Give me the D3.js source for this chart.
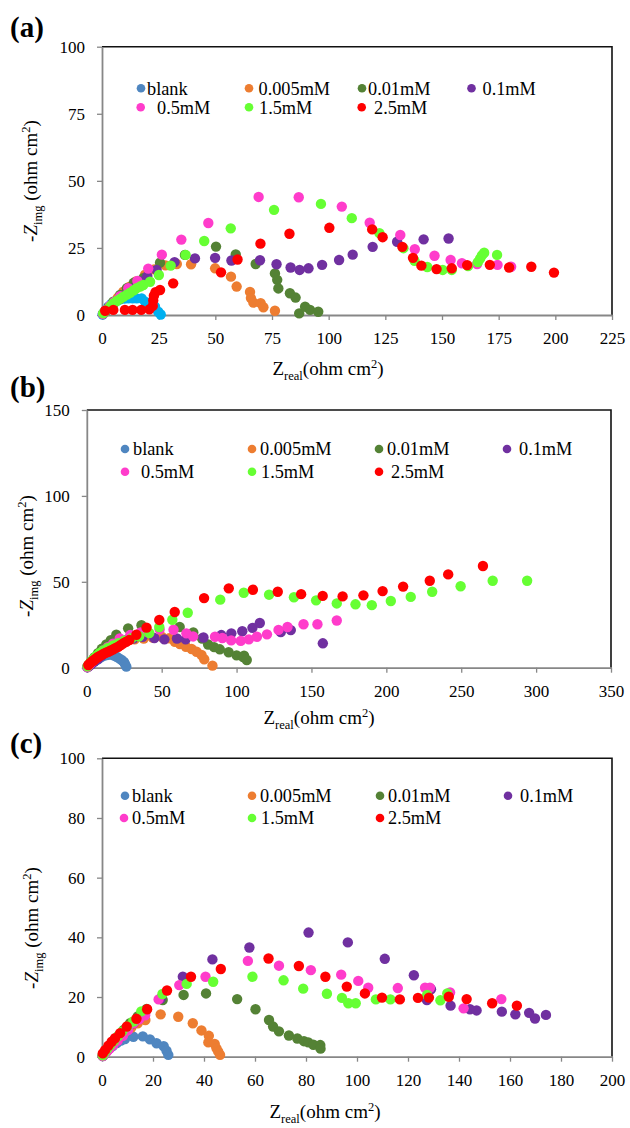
<!DOCTYPE html>
<html>
  <head>
    <meta charset="utf-8">
    <title>Nyquist plots</title>
    <script src="https://cdn.jsdelivr.net/npm/d3@7/dist/d3.min.js"></script>
    <style>
      body { margin: 0; background: #fff; }
    </style>
  </head>
  <body>
    <svg width="630" height="1128" id="mainsvg"></svg>
    <script>
        // series names and colours (same order in every panel)
        const seriesNames = ['blank', '0.005mM', '0.01mM', '0.1mM', '0.5mM', '1.5mM', '2.5mM'];
        const seriesColors = ['#4f86c0', '#ed7d31', '#548235', '#7030a0', '#ff3ccb', '#66ff33', '#ff0000'];

        // ---- panel (a) ----  [Zreal, -Zimg]
        const aXTicks = [0, 25, 50, 75, 100, 125, 150, 175, 200, 225];
        const aYTicks = [0, 25, 50, 75, 100];
        const aBlank = [[0.3,0.2],[0.6,0.6],[1.5,1.5],[2.8,3.1],[4,4],[5,4.6],[6.5,5.3],[7.9,5.8],[9.8,6.1],[11.6,6.2],[13.5,6.2],[15.3,6.2],[17.5,6.2],[19,5],[21.2,4.6],[23.4,3.1],[24.8,1.2],[25.9,0.2]];
        const a005 = [[0.5,0.4],[1.5,1.2],[3,2.5],[5,4.5],[7,6.5],[9.4,8.7],[12,10.5],[15,12.5],[19,15],[23,17],[28,18.5],[33,19],[39.3,18.9],[49.9,17.4],[56.9,14.3],[59.4,10.6],[65.3,8.6],[65.7,6.3],[66.8,4.6],[70,4.4],[71.2,2.9],[76.3,1.6]];
        const a01 = [[0.5,0.5],[1.5,1.5],[3,3],[5,5],[8,7.5],[11,10],[14,12],[18.2,13.7],[25.6,19.5],[36.6,22.4],[50.3,25.5],[59,22.6],[67.8,19],[76.3,15.5],[77.3,13.1],[77.8,9.9],[82.9,8.1],[85.4,6.5],[87,0.6],[89.6,3.1],[91.8,1.9],[95.4,1.2]];
        const a1 = [[0.5,0.4],[1.5,1.2],[3,2.5],[5,4],[8,6],[11,8],[14,10],[17,12.5],[20,14.5],[24.1,16.8],[32,19.7],[41,21.1],[49.9,21.3],[57.1,20.3],[69.7,20.4],[77,18.9],[83.2,17.7],[87.2,16.8],[91.1,17.4],[97.1,18.7],[104.6,20.5],[110.6,22.5],[119.4,25.4],[130.2,27.3],[141.9,28.2],[152.9,28.5]];
        const a5 = [[0.4,0.4],[1,1],[2,2],[3.5,3.5],[5.5,5],[8,7],[11.6,10],[15.6,12.7],[20.4,17.3],[26.4,22.5],[35,28.1],[46.9,34.3],[69.1,44],[86.8,43.9],[105.8,40.4],[118.1,34.4],[131.6,29.8],[138,24.5],[146.7,22.1],[153.8,20.5],[158.8,19.3],[165.5,19],[174.5,18.7],[180.5,18]];
        const a15 = [[0.5,0.6],[1.3,1.2],[2.5,2.2],[3.8,3.4],[5,4.3],[6.5,5.2],[8,6],[9.4,6.8],[11,7.6],[12.4,8.3],[14,9.2],[15.3,10],[16.8,10.6],[18.2,11.2],[21.2,12.4],[25.1,14.9],[30.3,18.4],[36.9,22.4],[45.1,27.6],[56.8,32.3],[75.9,39.2],[96.6,41.4],[110.2,36.1],[122.4,30.5],[133,24.9],[137.9,20.2],[143.5,17.9],[150.3,16.8],[154.3,16.8],[161.5,18.2],[165.8,19.7],[166.8,21],[167.6,22.2],[168.6,23.2],[174.3,22.4]];
        const a25 = [[1.4,1.6],[5,1.9],[10.1,1.9],[13.5,1.9],[17.3,1.9],[20.9,2.1],[22.4,3.4],[22.6,5.4],[22.9,7.2],[23.6,8.5],[25.6,9.3],[31.4,11.8],[52.5,15.9],[59.8,20.7],[69.9,26.6],[82.7,30.3],[100.3,32.5],[119.2,31.9],[123.8,29],[132.5,25.4],[137.2,21.3],[140.9,18.4],[147.6,17.1],[154.3,17.4],[161.1,18.6],[171.1,18.7],[179.6,17.7],[189.4,18],[199.4,15.8]];

        // ---- panel (b) ----
        const bXTicks = [0, 50, 100, 150, 200, 250, 300, 350];
        const bYTicks = [0, 50, 100, 150];
        const bBlank = [[0.3,0.3],[1,0.8],[2,1.8],[3.3,2.6],[5,3.6],[6.6,4.5],[8.3,5.5],[9.9,6.4],[11.6,7],[13.3,7.4],[15,7.6],[16.6,7.8],[18.2,7],[19.9,6.4],[21.6,5.4],[23.3,4.5],[24.8,3.3],[25.5,2.2],[26.4,0.6]];
        const b005 = [[0.5,0.5],[1.5,1.5],[3,3],[5,5],[7.5,7],[10,9],[13,11],[17,13],[21,14.5],[26,15.5],[32,16.5],[38,17],[44,17.5],[50,18],[55,17.1],[58.8,15.1],[62.2,13.8],[66.2,12.2],[70,10.9],[73.3,9.3],[76.6,7.4],[78.4,4.9],[83.9,1.2]];
        const b01 = [[0.5,0.6],[1.5,1.8],[3,3.8],[5,6],[7.5,8.5],[10,11],[13,13.5],[16,16],[19.7,19.2],[27.6,22.9],[36.5,24.7],[62,23.7],[71.1,20.5],[77,17],[81,13.5],[85,12],[88.8,10.7],[94.7,9],[100,7.2],[104.4,6.2],[105,7],[106.8,4.5]];
        const b1 = [[0.5,0.3],[1.5,1],[3,2],[5,3.5],[7.5,5],[10,7],[13,9.5],[17,12],[21,14],[26,16],[31,17],[37.2,18],[45.1,17.3],[51.8,16.5],[60.2,17],[66,16.5],[77.9,17.6],[89.8,19],[96.5,20],[103.8,21.2],[110.6,23.2],[115.5,26],[129.5,20.7],[136.2,21.9],[157.6,14.2]];
        const b5 = [[0.4,0.4],[1.2,1.2],[2.5,2.5],[4,4],[6,6],[8.5,8],[11,10],[14,12],[17.5,14],[22,17],[29,19],[36,20.5],[40,21],[48.6,22.3],[57.9,22.1],[66.5,20],[71,18.2],[85.6,18],[90.5,17.3],[96.4,15.9],[102.8,15.6],[108.2,16.5],[113.6,18],[120.3,19.4],[128,22],[134,23.7],[144.7,25.3],[154,25.3],[166.9,27.5]];
        const b15 = [[0.5,0.8],[1.5,2],[3,3.8],[4.8,5.5],[6.5,7],[8.5,8.5],[11,10],[14,11.5],[17.5,13],[21,14.3],[25,15.7],[30,17.2],[35,18.3],[41.7,20.2],[48.4,23.7],[57.1,27.9],[67.4,32],[89.1,39.6],[104.8,43.6],[121.7,42.5],[138.3,41],[153.1,39.2],[166.9,37.4],[179.4,36.9],[190.3,36.4],[203,38.8],[216.3,41.2],[230.6,44.2],[249.6,47.4],[271,50.6],[294,50.6]];
        const b25 = [[1,1.6],[2.2,2.6],[3.3,3.5],[4.4,4.2],[5.5,4.9],[6.6,5.7],[7.7,6.4],[9.3,7.2],[11,8],[12.7,8.7],[14.4,9.3],[16,10],[17.7,10.7],[19.3,11.5],[21,12.2],[22.7,13.2],[24.4,14.2],[26.3,15.1],[28.4,16.1],[33.1,19.2],[39.9,23.3],[48.4,27.8],[58.7,32.4],[78.3,40.5],[94.8,46.2],[110.9,45.4],[127.5,44.2],[143.1,42.8],[157.5,41.8],[170.8,41.5],[184.7,42.1],[197.5,44.6],[211.2,47.2],[229,50.6],[241.3,54.3],[264.5,59.2]];

        // ---- panel (c) ----
        const cXTicks = [0, 20, 40, 60, 80, 100, 120, 140, 160, 180, 200];
        const cYTicks = [0, 20, 40, 60, 80, 100];
        const cBlank = [[0.3,0.2],[0.8,0.8],[1.6,1.6],[2.8,2.6],[4.2,3.6],[5.8,4.6],[7.4,5.4],[9,5.9],[12.3,6.7],[16,6.8],[18.8,5.8],[21.4,4.5],[24.2,3.5],[25.3,2],[26,0.6]];
        const c005 = [[0.3,0.3],[1,1],[2,2.2],[3.5,3.7],[5,5],[7,6.8],[9,8.3],[11.5,9.8],[14,11.2],[17,12.3],[23,14.2],[29.9,13.4],[35.6,11.2],[39,8.8],[41.9,7],[41.7,4.8],[44.2,4.3],[44.9,2.8],[45.6,1.7],[46.3,0.6]];
        const c01 = [[0.3,0.4],[1,1.3],[2,2.6],[3.3,4],[4.8,5.5],[6.5,7],[8.5,9],[11,11.2],[14,13.5],[17.5,16],[23.8,19],[32,20.7],[40.8,21.2],[53,19.3],[60.2,15.9],[65.5,12.3],[67.1,10.1],[69.4,8.5],[73.3,7.1],[76.6,6.1],[79.2,5.2],[80.9,4.8],[82.9,4],[85.6,3.9],[85.7,2.7]];
        const c1 = [[0.3,0.3],[0.9,0.9],[1.8,1.8],[3,3],[4.5,4.2],[6.3,5.7],[8.3,7.9],[10.2,9.5],[12.3,11.2],[14.5,12.8],[16.9,14.5],[23,19.5],[31.7,26.8],[43.3,32.6],[57.8,36.6],[81,41.6],[96.4,38.3],[110.9,32.8],[122.3,27.3],[129,22.6],[127.4,19],[136.7,17.1],[144.3,15.9],[146.9,15.5],[156.8,15.1],[162.1,14.2],[167.5,14.7],[169.8,12.8],[174.1,14]];
        const c5 = [[0.3,0.2],[0.9,0.8],[1.8,1.6],[3,2.7],[4.5,4],[6.2,5.4],[8.2,7],[10.2,8.9],[12.3,11.2],[14.5,12.5],[16.9,13.9],[22.2,19.2],[30.3,24],[40.6,26.8],[57.2,32.1],[69.4,30.5],[81.9,29],[93.8,27.5],[100.5,25.4],[104.4,23.1],[116,23],[126.7,23.1],[128.6,23.1],[136.5,21.5],[141.8,16.2],[156.6,19.3]];
        const c15 = [[0.3,0.5],[1,1.4],[2,2.6],[3.2,3.8],[4.6,5.2],[6.2,6.8],[8,8.5],[10,10.2],[12.2,11.8],[15.4,15.2],[23.7,21],[33.2,24.4],[43.6,25.1],[59,26.8],[71.2,25.6],[78.9,22.8],[88.2,21.1],[94.1,19.7],[96.6,17.9],[99.5,17.9],[107.4,19.2],[113.1,19.2],[127.5,20.7],[132.7,18.9],[135.4,21.2]];
        const c25 = [[0.3,1.1],[1.2,2.2],[2.5,3.7],[3.8,5],[5.1,6.2],[7.1,7.9],[9.7,10.1],[13.5,12.7],[17.7,15.9],[25.5,22.2],[34.9,26.8],[46.6,29.4],[65.3,32.9],[77.2,30.4],[87.6,26.8],[96,23.5],[103.1,21.2],[109.8,19.8],[116.8,19.2],[123.9,19.7],[128.2,19.8],[136,20.1],[143,19.3],[153,17.9],[162.7,17.1]];

        const svg = d3.select('#mainsvg');
        const serifFont = '"Liberation Serif", "Times New Roman", serif';
        const axisGrey = '#878787';
        svg.attr('font-family', serifFont);

        // layout of each panel (pixel box of plot area, legend slots, titles)
        const panels = [
          { label: '(a)', labelY: 37, left: 102, right: 612, top: 46.7, bottom: 315,
            xTicks: aXTicks, yTicks: aYTicks,
            series: [aBlank, a005, a01, a1, a5, a15, a25],
            dataColors: ['#00b0f0'].concat(seriesColors.slice(1)),
            legendRows: [88.3, 107.3],
            legendMarkX: [141, 249, 362, 471.5, 140.7, 249, 361.7],
            legendTextX: [147, 258.5, 368, 482.5, 157, 259, 374],
            yTitle: [30, 181], xTitle: [328, 380] },
          { label: '(b)', labelY: 397, left: 86.8, right: 611, top: 410, bottom: 667.7,
            xTicks: bXTicks, yTicks: bYTicks,
            series: [bBlank, b005, b01, b1, b5, b15, b25],
            dataColors: seriesColors,
            legendRows: [449, 471.7],
            legendMarkX: [125, 252, 379, 507, 125, 252, 379],
            legendTextX: [133, 260, 387, 519, 141, 261, 391],
            yTitle: [26, 556], xTitle: [319, 729] },
          { label: '(c)', labelY: 753, left: 102, right: 612, top: 758.3, bottom: 1056.7,
            xTicks: cXTicks, yTicks: cYTicks,
            series: [cBlank, c005, c01, c1, c5, c15, c25],
            dataColors: seriesColors,
            legendRows: [795.7, 818],
            legendMarkX: [125, 252, 380, 508, 124, 252, 380],
            legendTextX: [132, 260, 388, 520, 132, 261, 388],
            yTitle: [31, 928], xTitle: [325, 1123] }
        ];

        function drawPanel(p) {
          const xScale = d3.scaleLinear()
            .domain([p.xTicks[0], p.xTicks[p.xTicks.length - 1]])
            .range([p.left, p.right]);
          const yScale = d3.scaleLinear()
            .domain([p.yTicks[0], p.yTicks[p.yTicks.length - 1]])
            .range([p.bottom, p.top]);

          const g = svg.append('g').attr('font-family', serifFont);

          // black border on top and right
          g.append('path')
            .attr('d', `M${p.left},${p.top}H${p.right}V${p.bottom}`)
            .attr('fill', 'none').attr('stroke', '#111').attr('stroke-width', 1.6);

          const xAxis = d3.axisBottom(xScale).tickValues(p.xTicks)
            .tickSize(5).tickSizeOuter(0).tickPadding(12);
          const yAxis = d3.axisLeft(yScale).tickValues(p.yTicks)
            .tickSize(5).tickSizeOuter(0).tickPadding(12);

          const xg = g.append('g').attr('transform', `translate(0, ${p.bottom})`).call(xAxis);
          const yg = g.append('g').attr('transform', `translate(${p.left}, 0)`).call(yAxis);
          [xg, yg].forEach(ag => {
            ag.attr('font-family', serifFont).attr('font-size', 17);
            ag.select('.domain').attr('stroke', axisGrey).attr('stroke-width', 1.8);
            ag.selectAll('.tick line').attr('stroke', axisGrey).attr('stroke-width', 1.3);
            ag.selectAll('.tick text').attr('fill', '#000');
          });

          // data points
          p.series.forEach((pts, i) => {
            g.append('g').selectAll('circle').data(pts).join('circle')
              .attr('cx', d => xScale(d[0]))
              .attr('cy', d => yScale(d[1]))
              .attr('r', 5.2)
              .attr('fill', p.dataColors[i]);
          });

          // legend, 4 + 3 entries
          seriesNames.forEach((name, i) => {
            const rowY = p.legendRows[i < 4 ? 0 : 1];
            g.append('circle').attr('cx', p.legendMarkX[i]).attr('cy', rowY)
              .attr('r', 4.3).attr('fill', seriesColors[i]);
            g.append('text').attr('x', p.legendTextX[i]).attr('y', rowY + 6.2)
              .attr('font-size', 18.3).text(name);
          });

          // panel label
          g.append('text').attr('x', 10).attr('y', p.labelY)
            .attr('font-size', 29).attr('font-weight', 'bold').text(p.label);

          // y title: -Zimg (ohm cm2)
          const yt = g.append('text')
            .attr('transform', `translate(${p.yTitle[0]}, ${p.yTitle[1]}) rotate(-90)`)
            .attr('text-anchor', 'middle').attr('dy', '0.35em').attr('font-size', 19);
          yt.append('tspan').text('-');
          yt.append('tspan').attr('font-style', 'italic').text('Z');
          yt.append('tspan').attr('font-size', 12.5).attr('dy', 5).text('img');
          yt.append('tspan').attr('dy', -5).text(' (ohm cm');
          yt.append('tspan').attr('font-size', 12.5).attr('dy', -7).text('2');
          yt.append('tspan').attr('dy', 7).text(')');

          // x title: Zreal(ohm cm2)
          const xt = g.append('text').attr('x', p.xTitle[0]).attr('y', p.xTitle[1] - 5)
            .attr('text-anchor', 'middle').attr('font-size', 19);
          xt.append('tspan').text('Z');
          xt.append('tspan').attr('font-size', 12.5).attr('dy', 5).text('real');
          xt.append('tspan').attr('dy', -5).text('(ohm cm');
          xt.append('tspan').attr('font-size', 12.5).attr('dy', -7).text('2');
          xt.append('tspan').attr('dy', 7).text(')');
        }

        panels.forEach(drawPanel);
    </script>
  </body>
</html>
